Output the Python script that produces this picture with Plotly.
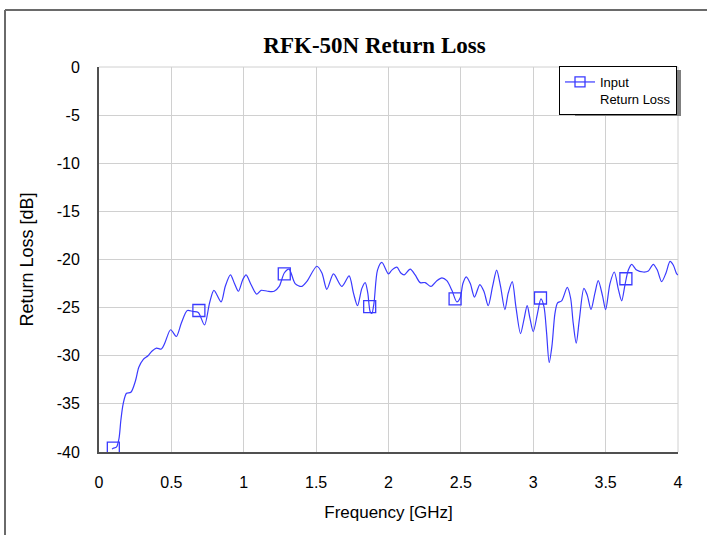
import plotly.graph_objects as go

# Curve data
freq_ghz = [0.09, 0.10, 0.12, 0.138, 0.151, 0.167, 0.19, 0.22, 0.252, 0.275, 0.305, 0.339, 0.367,
            0.397, 0.431, 0.454, 0.495, 0.534, 0.569, 0.61, 0.649, 0.686, 0.729, 0.764, 0.794,
            0.844, 0.872, 0.908, 0.936, 0.963, 0.993, 1.016, 1.05, 1.089, 1.12, 1.165, 1.21,
            1.245, 1.28, 1.313, 1.355, 1.40, 1.435, 1.505, 1.54, 1.574, 1.62, 1.677, 1.728,
            1.758, 1.786, 1.816, 1.839, 1.857, 1.873, 1.885, 1.90, 1.924, 1.954, 2.0, 2.023,
            2.058, 2.085, 2.108, 2.15, 2.184, 2.219, 2.253, 2.293, 2.334, 2.369, 2.403, 2.438,
            2.472, 2.495, 2.514, 2.537, 2.565, 2.594, 2.631, 2.659, 2.689, 2.719, 2.747, 2.774,
            2.804, 2.827, 2.855, 2.88, 2.912, 2.935, 2.958, 2.977, 3.0, 3.028, 3.053, 3.074,
            3.092, 3.11, 3.129, 3.15, 3.168, 3.196, 3.235, 3.258, 3.276, 3.297, 3.318, 3.35,
            3.373, 3.399, 3.426, 3.449, 3.479, 3.5, 3.53, 3.56, 3.588, 3.611, 3.634, 3.657,
            3.68, 3.714, 3.76, 3.795, 3.829, 3.857, 3.887, 3.917, 3.945, 3.968, 3.991, 4.0]
return_loss_db = [-39.7, -39.6, -39.5, -38.6, -36.7, -35.0, -33.9, -33.8, -32.6, -31.2, -30.4, -30.0, -29.5,
                  -29.2, -29.3, -28.7, -27.3, -28.0, -26.6, -25.3, -25.4, -25.5, -26.8, -24.5, -23.2,
                  -24.4, -22.8, -21.6, -22.5, -23.3, -22.1, -21.6, -22.6, -23.6, -23.2, -23.3, -23.3,
                  -22.8, -21.4, -21.0, -22.5, -22.8, -22.3, -20.7, -21.4, -23.1, -21.5, -22.8, -21.7,
                  -23.5, -24.8, -23.0, -22.4, -23.5, -25.4, -25.6, -24.5, -21.1, -20.3, -21.5, -21.1,
                  -20.8, -21.4, -21.6, -21.0, -21.6, -22.4, -22.4, -22.8, -22.2, -21.9, -22.2, -23.2,
                  -24.4, -24.0, -22.5, -21.8, -22.5, -23.9, -22.6, -23.3, -24.8, -22.8, -21.1, -22.8,
                  -25.2, -23.5, -22.3, -24.9, -27.7, -26.3, -24.8, -26.1, -27.5, -25.7, -24.1, -24.9,
                  -27.6, -30.7, -29.0, -25.6, -24.5, -24.3, -22.9, -24.0, -26.6, -28.7, -26.3, -23.0,
                  -23.7, -25.2, -23.5, -22.2, -23.8, -25.2, -22.5, -21.3, -23.1, -24.3, -22.6, -21.1,
                  -20.5, -21.1, -21.3, -21.2, -20.5, -21.1, -22.3, -21.4, -20.2, -20.6, -21.5, -21.6]

# Marker positions
marker_freq = [0.099, 0.69, 1.28, 1.87, 2.46, 3.05, 3.64]
marker_db = [-39.6, -25.3, -21.5, -24.9, -24.1, -24.0, -22.0]

x_tickvals = [0, 0.5, 1, 1.5, 2, 2.5, 3, 3.5, 4]
x_ticktext = ["0", "0.5", "1", "1.5", "2", "2.5", "3", "3.5", "4"]
y_tickvals = [0, -5, -10, -15, -20, -25, -30, -35, -40]
y_ticktext = ["0", "-5", "-10", "-15", "-20", "-25", "-30", "-35", "-40"]

BLUE = "#3a3aff"

fig = go.Figure()
fig.add_trace(go.Scatter(x=freq_ghz, y=return_loss_db, mode="lines",
                         line=dict(color=BLUE, width=1.2, shape="spline", smoothing=0.8),
                         showlegend=False, hoverinfo="skip"))
fig.add_trace(go.Scatter(x=marker_freq, y=marker_db, mode="markers",
                         marker=dict(symbol="square-open", size=12, color=BLUE,
                                     line=dict(width=1.3, color=BLUE)),
                         showlegend=False))
fig.add_trace(go.Scatter(x=[None], y=[None], mode="lines+markers", name="Input<br>Return Loss",
                         line=dict(color=BLUE, width=1.2),
                         marker=dict(symbol="square-open", size=10, color=BLUE,
                                     line=dict(width=1.3, color=BLUE))))

# plot area: left 99, right 678, top 67, bottom 452 (px)
L, R, T, B = 99, 678, 67, 452
W, H = 707, 535

def px_to_paper_x(px):
    return (px - L) / (R - L)

def px_to_paper_y(py):
    return (B - py) / (B - T)

FRAME = "#6a6a6a"
shapes = [
    # outer frame (left and top edges visible)
    dict(type="line", xref="paper", yref="paper",
         x0=px_to_paper_x(5), x1=px_to_paper_x(5),
         y0=px_to_paper_y(540), y1=px_to_paper_y(10),
         line=dict(color=FRAME, width=2), layer="below"),
    dict(type="line", xref="paper", yref="paper",
         x0=px_to_paper_x(5), x1=px_to_paper_x(712),
         y0=px_to_paper_y(10), y1=px_to_paper_y(10),
         line=dict(color=FRAME, width=2), layer="below"),
    # legend shadow
    dict(type="rect", xref="paper", yref="paper",
         x0=px_to_paper_x(575), x1=px_to_paper_x(681),
         y0=px_to_paper_y(116), y1=px_to_paper_y(70),
         line=dict(width=0), fillcolor="#808080", layer="above"),
    # top and right light border lines of the plot area
    dict(type="line", xref="paper", yref="paper", x0=0, x1=1, y0=1, y1=1,
         line=dict(color="#d0d0d0", width=1), layer="below"),
    dict(type="line", xref="paper", yref="paper", x0=1, x1=1, y0=0, y1=1,
         line=dict(color="#d0d0d0", width=1), layer="below"),
]

fig.update_layout(
    width=W, height=H,
    margin=dict(l=L, r=W - R, t=T, b=H - B, pad=0),
    paper_bgcolor="white", plot_bgcolor="white",
    title=dict(text="<b>RFK-50N Return Loss</b>", x=374.5 / W, xanchor="center",
               y=1 - 45 / H, yanchor="middle",
               font=dict(family="Liberation Serif, Times New Roman, serif", size=23, color="black")),
    font=dict(family="Liberation Sans, Arial, sans-serif", size=16, color="black"),
    xaxis=dict(range=[0, 4], tickvals=x_tickvals, ticktext=x_ticktext,
               showgrid=True, gridcolor="#d0d0d0", gridwidth=1,
               showline=True, linecolor="#505050", linewidth=2, mirror=False,
               zeroline=False, ticks="", ticklabelstandoff=15,
               title=dict(text="Frequency [GHz]", standoff=16,
                          font=dict(size=17))),
    yaxis=dict(range=[-40, 0], tickvals=y_tickvals, ticktext=y_ticktext,
               showgrid=True, gridcolor="#d0d0d0", gridwidth=1,
               showline=True, linecolor="#505050", linewidth=2, mirror=False,
               zeroline=False, ticks="", ticklabelstandoff=14,
               title=dict(text="Return Loss [dB]", standoff=18,
                          font=dict(size=18))),
    legend=dict(x=px_to_paper_x(677), xanchor="right", y=px_to_paper_y(66), yanchor="top",
                bgcolor="white", bordercolor="black", borderwidth=1,
                font=dict(family="Liberation Sans, Arial, sans-serif", size=13),
                valign="top", itemwidth=30, tracegroupgap=0),
    shapes=shapes,
)

fig.write_html("out.html", config={"displayModeBar": False},
               post_script="document.body.style.margin='0';")
